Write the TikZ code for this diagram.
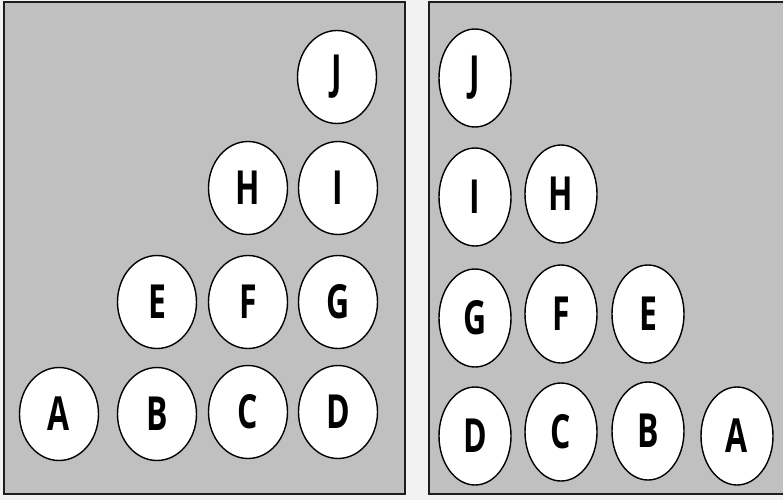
\documentclass[tikz,border=0pt]{standalone}
\usepackage{fontspec}
\setmainfont{Open Sans}[FakeStretch=0.68]
\usetikzlibrary{shapes.geometric}
\definecolor{panel}{RGB}{192,192,192}
\definecolor{backdrop}{RGB}{242,242,242}
\definecolor{rim}{RGB}{30,30,30}

\tikzset{
  ball/.style={ellipse, draw=black, line width=1.4pt, fill=white, inner sep=0pt,
    font=\fontsize{47}{47}\selectfont\bfseries},
  leftball/.style={ball, minimum width=79pt, minimum height=93pt},
  rightball/.style={ball, minimum width=72pt, minimum height=98pt},
  box/.style={draw=rim, line width=2pt, fill=panel}
}

\begin{document}
\begin{tikzpicture}[x=1pt, y=-1pt]
    % Backdrop
    \fill[backdrop] (0,0) rectangle (783,500);
    \useasboundingbox (0,0) rectangle (783,500);

    % Left panel
    \draw[box] (4,2) rectangle (405,494);
    \node[leftball] (lA) at (59,414) {A};
    \node[leftball] (lB) at (157,414) {B};
    \node[leftball] (lC) at (248,412) {C};
    \node[leftball] (lD) at (338,412) {D};
    \node[leftball] (lE) at (157,302) {E};
    \node[leftball] (lF) at (248,302) {F};
    \node[leftball] (lG) at (338,302) {G};
    \node[leftball] (lH) at (248,188) {H};
    \node[leftball] (lI) at (338,188) {I};
    \node[leftball] (lJ) at (337,77) {J};

    % Right panel, cut off at the right edge
    \begin{scope}
        \clip (0,0) rectangle (783,500);
        \draw[box] (429,2) rectangle (792,494);
    \end{scope}
    \node[rightball] (rJ) at (475,78) {J};
    \node[rightball] (rI) at (475,197) {I};
    \node[rightball] (rH) at (561,194) {H};
    \node[rightball] (rG) at (475,318) {G};
    \node[rightball] (rF) at (561,314) {F};
    \node[rightball] (rE) at (648,314) {E};
    \node[rightball] (rD) at (475,436) {D};
    \node[rightball] (rC) at (561,432) {C};
    \node[rightball] (rB) at (648,431) {B};
    \node[rightball] (rA) at (737,436) {A};
\end{tikzpicture}
\end{document}
